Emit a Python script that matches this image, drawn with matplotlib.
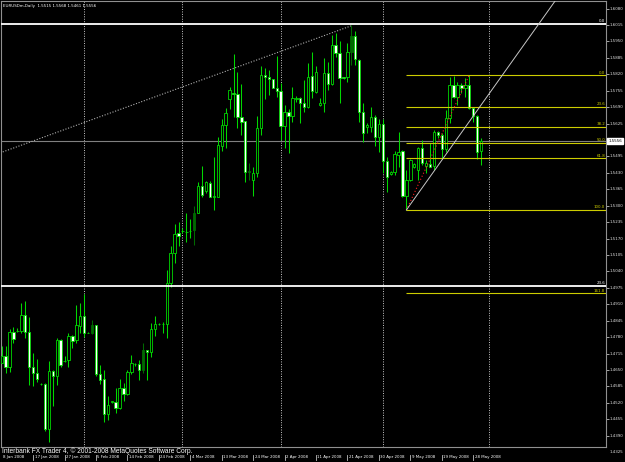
import numpy as np
import matplotlib
matplotlib.use("Agg")
import matplotlib.pyplot as plt
import matplotlib.transforms as mtransforms
from matplotlib import font_manager

# ---------------- data ----------------
symbol = "EURUSDm,Daily"
opens = [
    1.4679, 1.4706, 1.4661, 1.4799, 1.4806, 1.4805, 1.4867, 1.4801, 1.4661, 1.4638,
    1.4596, 1.4595, 1.4418, 1.4644, 1.4627, 1.4770, 1.4686, 1.4689, 1.4784, 1.4768,
    1.4824, 1.4864, 1.4798, 1.4795, 1.4827, 1.4634, 1.4615, 1.4475, 1.4525, 1.4525,
    1.4499, 1.4578, 1.4554, 1.4640, 1.4673, 1.4674, 1.4648, 1.4727, 1.4720, 1.4811,
    1.4832, 1.4832, 1.4832, 1.4993, 1.5114, 1.5191, 1.5201, 1.5196, 1.5201, 1.5204,
    1.5273, 1.5379, 1.5360, 1.5390, 1.5336, 1.5336, 1.5536, 1.5618, 1.5721, 1.5747,
    1.5741, 1.5652, 1.5635, 1.5435, 1.5402, 1.5431, 1.5606, 1.5817, 1.5808, 1.5800,
    1.5767, 1.5755, 1.5616, 1.5672, 1.5656, 1.5721, 1.5728, 1.5705, 1.5689, 1.5813,
    1.5751, 1.5697, 1.5708, 1.5824, 1.5782, 1.5936, 1.5903, 1.5808, 1.5808, 1.5910,
    1.5972, 1.5877, 1.5670, 1.5610, 1.5613, 1.5652, 1.5573, 1.5622, 1.5477, 1.5426,
    1.5432, 1.5501, 1.5518, 1.5339, 1.5402, 1.5455, 1.5442, 1.5527, 1.5458, 1.5464,
    1.5458, 1.5593, 1.5580, 1.5524, 1.5646, 1.5778, 1.5732, 1.5778, 1.5765, 1.5778,
    1.5686, 1.5655, 1.5515]
highs = [
    1.4743, 1.4743, 1.4813, 1.4818, 1.4815, 1.4914, 1.4922, 1.4860, 1.4716, 1.4693,
    1.4598, 1.4600, 1.4685, 1.4650, 1.4778, 1.4774, 1.4706, 1.4795, 1.4789, 1.4906,
    1.4914, 1.4951, 1.4802, 1.4848, 1.4828, 1.4670, 1.4650, 1.4545, 1.4528, 1.4578,
    1.4613, 1.4600, 1.4648, 1.4708, 1.4677, 1.4690, 1.4756, 1.4729, 1.4835, 1.4864,
    1.4835, 1.4841, 1.5046, 1.5141, 1.5228, 1.5237, 1.5211, 1.5273, 1.5246, 1.5299,
    1.5393, 1.5459, 1.5397, 1.5397, 1.5492, 1.5571, 1.5643, 1.5685, 1.5771, 1.5900,
    1.5831, 1.5782, 1.5635, 1.5468, 1.5455, 1.5655, 1.5853, 1.5844, 1.5837, 1.5800,
    1.5893, 1.5784, 1.5699, 1.5682, 1.5771, 1.5734, 1.5732, 1.5798, 1.5864, 1.5910,
    1.5853, 1.5725, 1.5883, 1.5870, 1.5976, 1.5982, 1.5953, 1.5811, 1.5945, 1.6017,
    1.5993, 1.5879, 1.5705, 1.5629, 1.5689, 1.5659, 1.5643, 1.5643, 1.5494, 1.5439,
    1.5517, 1.5592, 1.5521, 1.5442, 1.5484, 1.5468, 1.5531, 1.5560, 1.5481, 1.5547,
    1.5600, 1.5597, 1.5589, 1.5679, 1.5811, 1.5814, 1.5791, 1.5787, 1.5804, 1.5817,
    1.5692, 1.5659, 1.5568]
lows = [
    1.4677, 1.4637, 1.4640, 1.4758, 1.4801, 1.4795, 1.4776, 1.4591, 1.4587, 1.4604,
    1.4590, 1.4410, 1.4365, 1.4508, 1.4591, 1.4663, 1.4681, 1.4660, 1.4735, 1.4756,
    1.4795, 1.4782, 1.4795, 1.4793, 1.4624, 1.4595, 1.4442, 1.4452, 1.4518, 1.4479,
    1.4495, 1.4529, 1.4549, 1.4632, 1.4667, 1.4611, 1.4637, 1.4611, 1.4703, 1.4785,
    1.4828, 1.4795, 1.4775, 1.4980, 1.5072, 1.5141, 1.5191, 1.5158, 1.5171, 1.5143,
    1.5270, 1.5336, 1.5349, 1.5333, 1.5281, 1.5336, 1.5518, 1.5527, 1.5682, 1.5652,
    1.5609, 1.5580, 1.5394, 1.5402, 1.5340, 1.5415, 1.5580, 1.5722, 1.5738, 1.5765,
    1.5732, 1.5560, 1.5527, 1.5507, 1.5633, 1.5712, 1.5626, 1.5672, 1.5685, 1.5725,
    1.5747, 1.5695, 1.5670, 1.5758, 1.5778, 1.5890, 1.5708, 1.5800, 1.5788, 1.5857,
    1.5857, 1.5633, 1.5551, 1.5589, 1.5593, 1.5536, 1.5514, 1.5428, 1.5356, 1.5422,
    1.5422, 1.5455, 1.5334, 1.5283, 1.5396, 1.5448, 1.5402, 1.5462, 1.5429, 1.5452,
    1.5442, 1.5567, 1.5484, 1.5514, 1.5626, 1.5725, 1.5699, 1.5745, 1.5732, 1.5682,
    1.5633, 1.5484, 1.5461]
closes = [
    1.4706, 1.4661, 1.4799, 1.4774, 1.4805, 1.4867, 1.4801, 1.4661, 1.4637, 1.4615,
    1.4595, 1.4416, 1.4644, 1.4627, 1.4770, 1.4670, 1.4685, 1.4784, 1.4766, 1.4827,
    1.4864, 1.4795, 1.4797, 1.4828, 1.4632, 1.4611, 1.4476, 1.4512, 1.4525, 1.4500,
    1.4578, 1.4554, 1.4642, 1.4678, 1.4673, 1.4648, 1.4727, 1.4720, 1.4811, 1.4831,
    1.4832, 1.4833, 1.4993, 1.5112, 1.5188, 1.5180, 1.5201, 1.5197, 1.5200, 1.5273,
    1.5379, 1.5343, 1.5393, 1.5336, 1.5337, 1.5539, 1.5618, 1.5666, 1.5758, 1.5741,
    1.5652, 1.5633, 1.5434, 1.5436, 1.5431, 1.5609, 1.5817, 1.5808, 1.5800, 1.5767,
    1.5755, 1.5616, 1.5670, 1.5656, 1.5728, 1.5728, 1.5705, 1.5692, 1.5811, 1.5755,
    1.5828, 1.5708, 1.5824, 1.5782, 1.5936, 1.5903, 1.5804, 1.5807, 1.5910, 1.5972,
    1.5879, 1.5672, 1.5589, 1.5620, 1.5652, 1.5573, 1.5622, 1.5477, 1.5412, 1.5435,
    1.5503, 1.5514, 1.5339, 1.5402, 1.5481, 1.5465, 1.5527, 1.5468, 1.5468, 1.5455,
    1.5593, 1.5580, 1.5524, 1.5646, 1.5778, 1.5729, 1.5778, 1.5765, 1.5778, 1.5686,
    1.5653, 1.5514, 1.5556]
dark_bars = [23, 36, 49, 63, 89]

date_labels = ["8 Jan 2008", "17 Jan 2008", "27 Jan 2008", "5 Feb 2008", "14 Feb 2008",
               "24 Feb 2008", "4 Mar 2008", "13 Mar 2008", "24 Mar 2008", "2 Apr 2008",
               "11 Apr 2008", "21 Apr 2008", "30 Apr 2008", "9 May 2008", "19 May 2008",
               "28 May 2008"]
date_step = 8
month_start_bars = [21, 46, 71, 97, 124]
price_ticks = [1.6080, 1.6015, 1.5950, 1.5885, 1.5820, 1.5755, 1.5690, 1.5625,
               1.5495, 1.5430, 1.5365, 1.5300, 1.5235, 1.5170, 1.5105, 1.5040,
               1.4975, 1.4910, 1.4845, 1.4780, 1.4715, 1.4650, 1.4585, 1.4520,
               1.4455, 1.4390, 1.4325]

fib_levels = [0.0, 23.6, 38.2, 50.0, 61.8, 100.0, 161.8]
fib1_start_bar, fib1_low = 103, 1.5283
fib1_end_bar, fib1_high = 119, 1.5817
fib2_high, fib2_low = 1.6019, 1.1633
trend_a = (-0.4, 1.5509)
trend_b = (89, 1.6012)
ray_a = (103, 1.5283)
ray_b = (130, 1.5873)
copyright = "Interbank FX Trader 4, \u00a9 2001-2008 MetaQuotes Software Corp."

# ---------------- figure ----------------
W, H = 625, 462
fig = plt.figure(figsize=(W / 100, H / 100), dpi=100, facecolor="black")
ax = fig.add_axes([1.5 / W, 1 - 447 / H, (606 - 1.5) / W, (447 - 1) / H])
ax.set_facecolor("black")
ax.set_xlim(-0.05, 153.8)
ax.set_ylim(1.4345, 1.6110)

names = {f.name for f in font_manager.fontManager.ttflist}
if "Liberation Sans Narrow" in names:
    small = dict(family=["Liberation Sans Narrow", "DejaVu Sans"], size=4.0)
else:
    small = dict(family=["DejaVu Sans"], size=2.9)
reg_family = ["Liberation Sans", "DejaVu Sans"]

for s in ax.spines.values():
    s.set_color("#909090")
    s.set_linewidth(0.8)

GREEN = "#00D800"
DARK = "#006A00"
o = np.array(opens); h = np.array(highs); l = np.array(lows); c = np.array(closes)
x = np.arange(len(o))
is_dark = np.isin(x, dark_bars)
bull = c >= o
lo_b = np.minimum(o, c)
hi_b = np.maximum(o, c)

ax.vlines(x[~is_dark], l[~is_dark], h[~is_dark], color=GREEN, lw=0.75, zorder=3)
ax.vlines(x[is_dark], l[is_dark], h[is_dark], color=DARK, lw=0.75, zorder=3)
face = ["black" if b else "white" for b in bull]
edge = [GREEN] * len(x)
for i in dark_bars:
    face[i] = DARK
    edge[i] = DARK
ax.bar(x, np.maximum(hi_b - lo_b, 0.00005), bottom=lo_b, width=0.6,
       color=face, edgecolor=edge, linewidth=0.6, zorder=4)

# separators
for m in month_start_bars:
    ax.axvline(m, color="#C8C8C8", lw=0.7, ls=(0, (1, 1.5)), zorder=1)

# bid line
bid = closes[-1]
ax.axhline(bid, color="#808080", lw=0.8, zorder=2)

# white Fibonacci (full width)
blend_yaxis = mtransforms.blended_transform_factory(ax.transAxes, ax.transData)
for lv in fib_levels:
    p = fib2_high - lv / 100 * (fib2_high - fib2_low)
    if 1.4345 <= p <= 1.6110:
        ax.axhline(p, color="white", lw=1.3, zorder=5)
        ax.text(0.9985, p + 0.0002, f"{lv:.1f}", transform=blend_yaxis, ha="right",
                va="bottom", color="white", zorder=6, **small)

# yellow Fibonacci
YEL = "#CCCC00"
xmax = ax.get_xlim()[1]
for lv in fib_levels:
    p = fib1_high - lv / 100 * (fib1_high - fib1_low)
    ax.hlines(p, fib1_start_bar, xmax, color=YEL, lw=0.8, zorder=5)
    ax.text(0.9985, p + 0.0002, f"{lv:.1f}", transform=blend_yaxis, ha="right",
            va="bottom", color=YEL, zorder=6, **small)
ax.plot([fib1_start_bar, fib1_end_bar], [fib1_low, fib1_high], color="#FF2020",
        lw=0.8, ls=(0, (1, 2)), zorder=6)

# trend lines
ax.plot([trend_a[0], trend_b[0]], [trend_a[1], trend_b[1]], color="#B0B0B0",
        lw=0.8, ls=(0, (1, 1.5)), zorder=2)
slope = (ray_b[1] - ray_a[1]) / (ray_b[0] - ray_a[0])
ax.plot([ray_a[0], xmax], [ray_a[1], ray_a[1] + slope * (xmax - ray_a[0])],
        color="#C8C8C8", lw=0.7, zorder=6)

# price scale
ax.set_xticks([])
ax.yaxis.tick_right()
in_range = [p for p in price_ticks if 1.4345 <= p <= 1.6110]
ax.set_yticks(in_range)
ax.set_yticklabels([])
ax.tick_params(axis="y", length=2, width=0.6, color="#C0C0C0", pad=1)
for p in price_ticks:
    ax.text(1.0065, p, f"{p:.4f}", transform=blend_yaxis, ha="left", va="center",
            color="#E0E0E0", clip_on=False, **small)
ax.text(1.0035, bid, f"{bid:.4f}", transform=blend_yaxis, ha="left", va="center",
        color="black", clip_on=False, zorder=10,
        bbox=dict(boxstyle="square,pad=0.25", fc="white", ec="white"), **small)

# date scale
blend_xaxis = mtransforms.blended_transform_factory(ax.transData, ax.transAxes)
for k, lab in enumerate(date_labels):
    xi = k * date_step
    if k > 0:
        ax.plot([xi, xi], [-0.018, -0.029], transform=blend_xaxis, color="#C0C0C0",
                lw=0.6, clip_on=False)
    ax.text(xi + 0.35, -0.0235, lab, transform=blend_xaxis, ha="left", va="center",
            color="white", clip_on=False, **small)

# header and copyright
fig.text(3 / W, 1 - 5.5 / H,
         f"{symbol}  {opens[-1]:.4f} {highs[-1]:.4f} {lows[-1]:.4f} {closes[-1]:.4f}",
         ha="left", va="center", color="white", **small)
fig.text(2.5 / W, 1 - 451 / H, copyright, ha="left", va="center", color="white",
         family=reg_family, size=4.8)

fig.savefig("out.png", dpi=100, facecolor="black")
